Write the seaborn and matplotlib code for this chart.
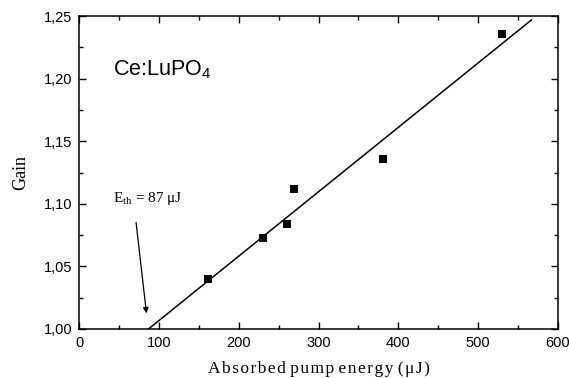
import matplotlib
matplotlib.use("Agg")
import matplotlib.pyplot as plt
import seaborn as sns
import pandas as pd
from matplotlib.ticker import MultipleLocator, FixedLocator, FixedFormatter

# Data
energy = [161, 230, 260, 269, 381, 530]
gain = [1.040, 1.073, 1.084, 1.112, 1.136, 1.236]
fit_x = [87, 567]
fit_y = [1.000, 1.247]
x_ticks = [0, 100, 200, 300, 400, 500, 600]
x_labels = ["0", "100", "200", "300", "400", "500", "600"]
y_ticks = [1.00, 1.05, 1.10, 1.15, 1.20, 1.25]
y_labels = ["1,00", "1,05", "1,10", "1,15", "1,20", "1,25"]

sns.set_theme(style="white")
plt.rcParams['font.family'] = ['Liberation Sans', 'DejaVu Sans']

fig = plt.figure(figsize=(5.69, 3.78), dpi=100)
ax = fig.add_axes([79/569, 1-329/378, (558-79)/569, (329-16)/378])

df = pd.DataFrame({"energy": energy, "gain": gain})
fit = pd.DataFrame({"x": fit_x, "y": fit_y})
sns.lineplot(data=fit, x="x", y="y", ax=ax, color="black", linewidth=1.1)
sns.scatterplot(data=df, x="energy", y="gain", ax=ax, marker="s", s=30,
                color="black", edgecolor="black", linewidth=0, zorder=5)

ax.set_xlim(0, 600)
ax.set_ylim(1.0, 1.25)
ax.xaxis.set_major_locator(FixedLocator(x_ticks))
ax.xaxis.set_major_formatter(FixedFormatter(x_labels))
ax.yaxis.set_major_locator(FixedLocator(y_ticks))
ax.yaxis.set_major_formatter(FixedFormatter(y_labels))
ax.xaxis.set_minor_locator(MultipleLocator(50))
ax.yaxis.set_minor_locator(MultipleLocator(0.025))
ax.tick_params(which="both", direction="in", top=True, right=True,
               bottom=True, left=True, color="black", width=1)
ax.tick_params(which="major", length=5, labelsize=10.5, labelcolor="black", pad=5)
ax.tick_params(which="minor", length=3)
for s in ax.spines.values():
    s.set_color("black")
    s.set_linewidth(1.1)

serif = ["Liberation Serif", "DejaVu Serif"]
xlabel = " ".join("\u200a".join(w) for w in "Absorbed pump energy (\u03bcJ)".split(" "))
ax.set_xlabel(xlabel, family=serif, fontsize=12.5, labelpad=8, color="black")
ax.set_ylabel("Gain", family=serif, fontsize=13, labelpad=10, color="black")

ax.text(42, 1.207, "Ce:LuPO$_{\\mathregular{4}}$", fontsize=15.5, va="center",
        ha="left", color="black")
ax.text(43, 1.1046, "E$_{\\mathregular{th}}$ = 87 \u03bcJ", family=serif,
        fontsize=11, va="center", ha="left", color="black")
ax.annotate("", xy=(84.5, 1.0125), xytext=(71.5, 1.085),
            arrowprops=dict(arrowstyle="-|>", color="black", lw=0.9,
                            mutation_scale=8, shrinkA=0, shrinkB=0))

fig.savefig("out.png", dpi=100)
